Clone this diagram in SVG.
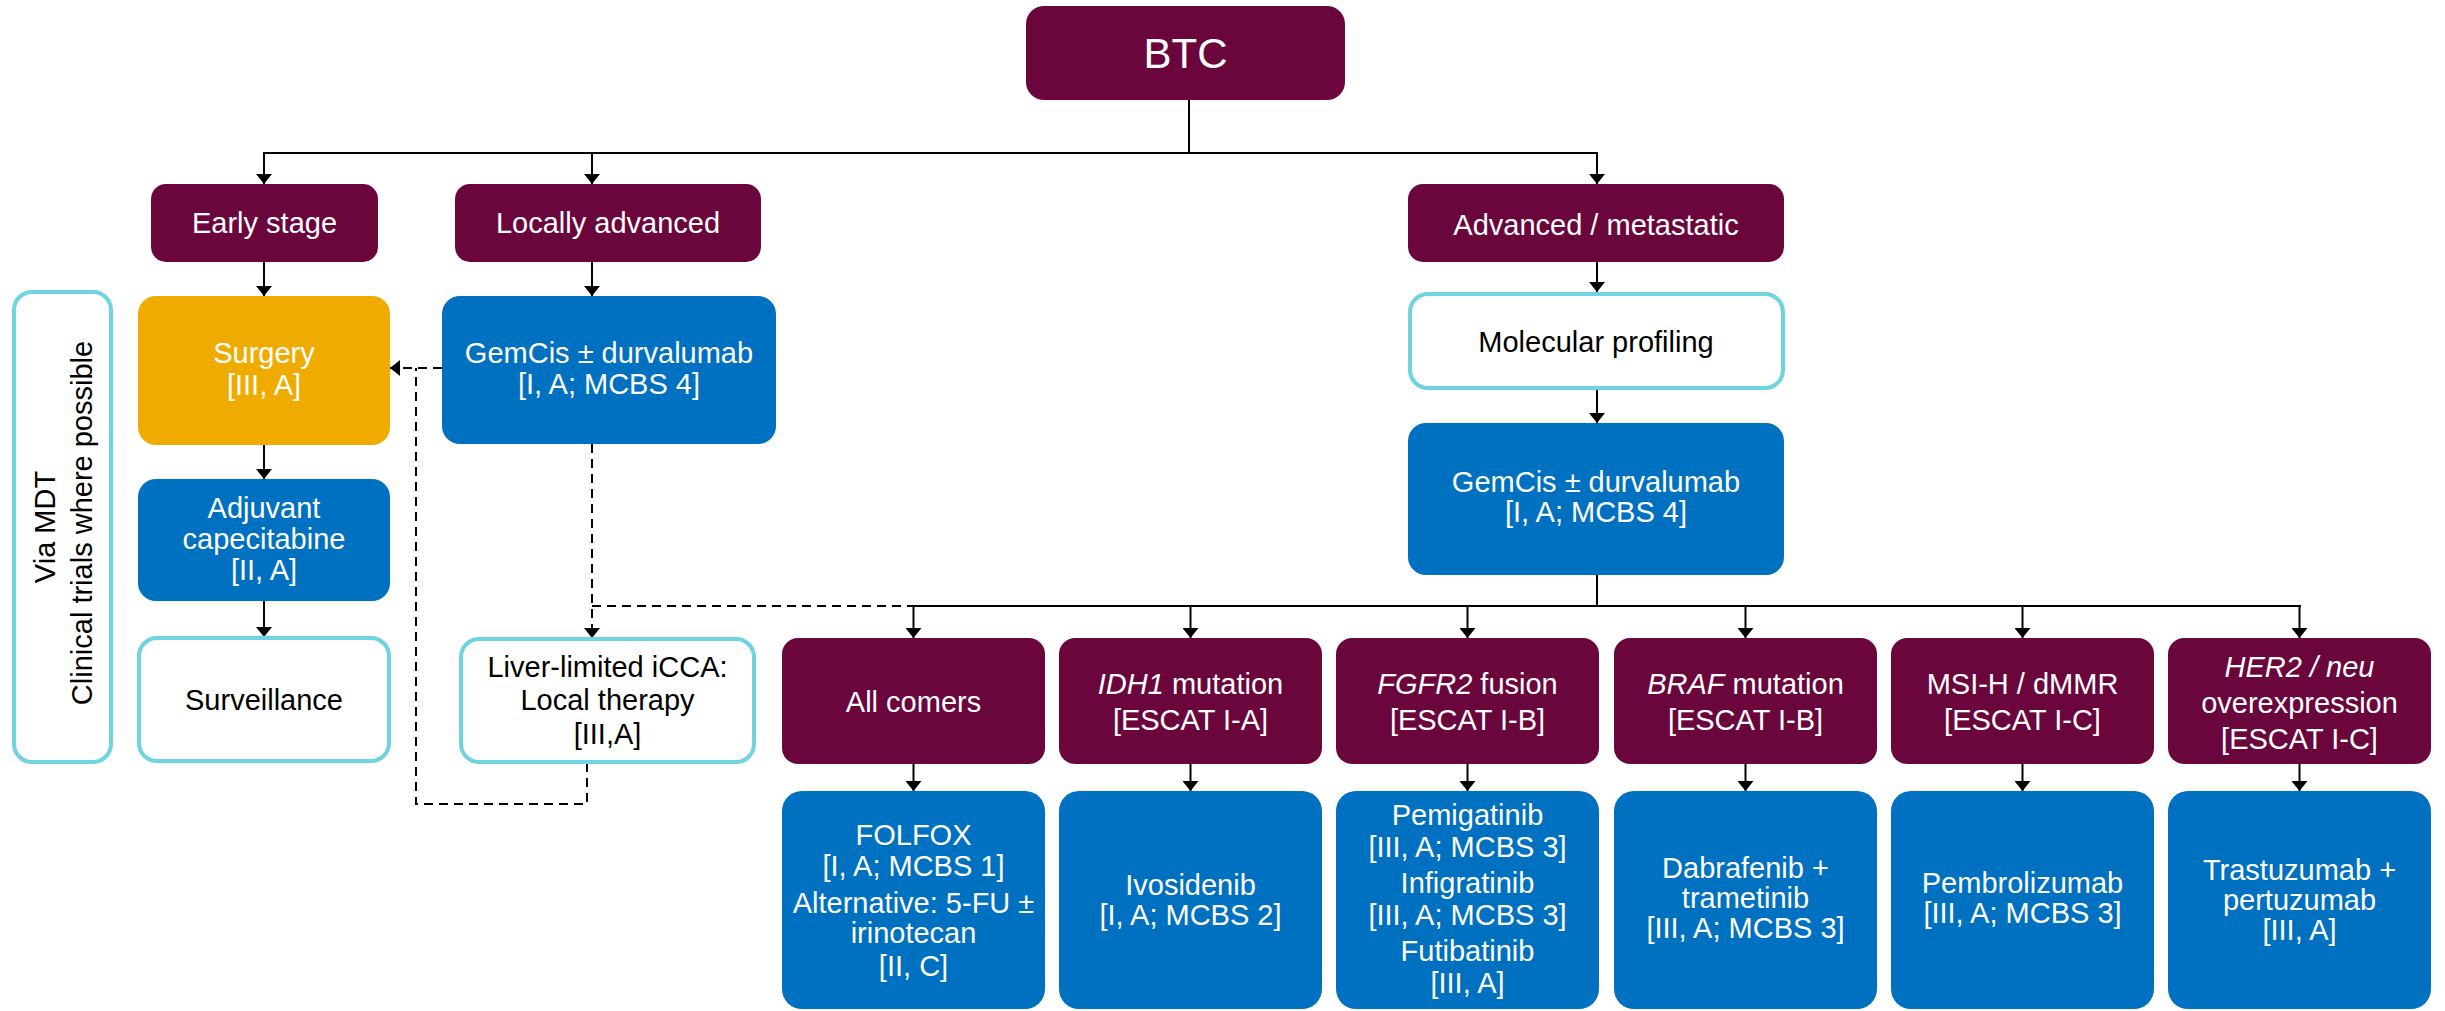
<svg xmlns="http://www.w3.org/2000/svg" width="2445" height="1011" viewBox="0 0 2445 1011">
<style>
text{font-family:"Liberation Sans",Arial,sans-serif;font-size:29px;text-anchor:middle}
.m{fill:#6A063B}
.b{fill:#0070C0}
.o{fill:#EFAB00}
.c{fill:#fff;stroke:#6FD3E0;stroke-width:4}
.w{fill:#fff}
.k{fill:#000}
.i{font-style:italic}
.ln{fill:none;stroke:#000;stroke-width:2}
.dl{fill:none;stroke:#000;stroke-width:2;stroke-dasharray:9 6}
</style>
<defs>
<marker id="ah" viewBox="0 0 10 16" refX="10" refY="8" markerWidth="10" markerHeight="16" markerUnits="userSpaceOnUse" orient="auto">
<path d="M0,0 L10,8 L0,16 Z" fill="#000"/>
</marker>
</defs>

<g id="connectors">
<line class="ln" x1="1189" y1="100" x2="1189" y2="153" stroke-width="1.5"/>
<line class="ln" x1="263" y1="153" x2="1598" y2="153" stroke-width="3"/>
<line class="ln" x1="264" y1="153" x2="264" y2="184" marker-end="url(#ah)"/>
<line class="ln" x1="592" y1="153" x2="592" y2="184" marker-end="url(#ah)"/>
<line class="ln" x1="1597" y1="153" x2="1597" y2="184" marker-end="url(#ah)"/>
<line class="ln" x1="264" y1="262" x2="264" y2="296" marker-end="url(#ah)"/>
<line class="ln" x1="592" y1="262" x2="592" y2="296" marker-end="url(#ah)"/>
<line class="ln" x1="264" y1="445" x2="264" y2="479" marker-end="url(#ah)"/>
<line class="ln" x1="264" y1="601" x2="264" y2="637" marker-end="url(#ah)"/>
<line class="ln" x1="1597" y1="262" x2="1597" y2="292" marker-end="url(#ah)"/>
<line class="ln" x1="1597" y1="389" x2="1597" y2="423" marker-end="url(#ah)"/>
<line class="ln" x1="1597" y1="575" x2="1597" y2="606" stroke-width="1.5"/>
<line class="ln" x1="913" y1="606" x2="2301" y2="606" stroke-width="2.5"/>
<line class="ln" x1="913.5" y1="606" x2="913.5" y2="638" marker-end="url(#ah)"/>
<line class="ln" x1="1190.5" y1="606" x2="1190.5" y2="638" marker-end="url(#ah)"/>
<line class="ln" x1="1467.5" y1="606" x2="1467.5" y2="638" marker-end="url(#ah)"/>
<line class="ln" x1="1745.5" y1="606" x2="1745.5" y2="638" marker-end="url(#ah)"/>
<line class="ln" x1="2022.5" y1="606" x2="2022.5" y2="638" marker-end="url(#ah)"/>
<line class="ln" x1="2299.5" y1="606" x2="2299.5" y2="638" marker-end="url(#ah)"/>
<line class="ln" x1="913.5" y1="764" x2="913.5" y2="791" marker-end="url(#ah)"/>
<line class="ln" x1="1190.5" y1="764" x2="1190.5" y2="791" marker-end="url(#ah)"/>
<line class="ln" x1="1467.5" y1="764" x2="1467.5" y2="791" marker-end="url(#ah)"/>
<line class="ln" x1="1745.5" y1="764" x2="1745.5" y2="791" marker-end="url(#ah)"/>
<line class="ln" x1="2022.5" y1="764" x2="2022.5" y2="791" marker-end="url(#ah)"/>
<line class="ln" x1="2299.5" y1="764" x2="2299.5" y2="791" marker-end="url(#ah)"/>
<line class="dl" x1="592" y1="444" x2="592" y2="638" marker-end="url(#ah)"/>
<line class="dl" x1="592" y1="606" x2="913" y2="606"/>
<line class="dl" x1="442" y1="368" x2="390" y2="368" marker-end="url(#ah)"/>
<polyline class="dl" points="587,763 587,804 416,804 416,368"/>
</g>

<g id="btc"><rect class="m" x="1026" y="6" width="319" height="94" rx="18"/><text class="w" x="1185.5" y="68" style="font-size:42px">BTC</text></g>
<g id="early"><rect class="m" x="151" y="184" width="227" height="78" rx="15"/><text class="w" x="264.5" y="233">Early stage</text></g>
<g id="locally"><rect class="m" x="455" y="184" width="306" height="78" rx="15"/><text class="w" x="608" y="233">Locally advanced</text></g>
<g id="advanced"><rect class="m" x="1408" y="184" width="376" height="78" rx="15"/><text class="w" x="1596" y="235">Advanced / metastatic</text></g>

<g id="via-mdt"><rect class="c" x="14" y="292" width="97" height="470" rx="18"/>
<text class="k" transform="translate(55,527) rotate(-90)">Via MDT</text>
<text class="k" transform="translate(92,523) rotate(-90)">Clinical trials where possible</text></g>

<g id="surgery"><rect class="o" x="138" y="296" width="252" height="149" rx="18"/><text class="w" x="264" y="363">Surgery</text><text class="w" x="264" y="395">[III, A]</text></g>
<g id="gemcis-la"><rect class="b" x="442" y="296" width="334" height="148" rx="18"/><text class="w" x="609" y="363">GemCis ± durvalumab</text><text class="w" x="609" y="394">[I, A; MCBS 4]</text></g>
<g id="adjuvant"><rect class="b" x="138" y="479" width="252" height="122" rx="18"/><text class="w" x="264" y="518">Adjuvant</text><text class="w" x="264" y="549">capecitabine</text><text class="w" x="264" y="580">[II, A]</text></g>
<g id="surveillance"><rect class="c" x="139" y="638" width="250" height="123" rx="18"/><text class="k" x="264" y="710">Surveillance</text></g>
<g id="liver"><rect class="c" x="461" y="639" width="293" height="123" rx="18"/><text class="k" x="607.5" y="677">Liver-limited iCCA:</text><text class="k" x="607.5" y="710">Local therapy</text><text class="k" x="607.5" y="744">[III,A]</text></g>

<g id="molecular"><rect class="c" x="1410" y="294" width="373" height="94" rx="18"/><text class="k" x="1596" y="352">Molecular profiling</text></g>
<g id="gemcis-adv"><rect class="b" x="1408" y="423" width="376" height="152" rx="18"/><text class="w" x="1596" y="492">GemCis ± durvalumab</text><text class="w" x="1596" y="522">[I, A; MCBS 4]</text></g>

<g id="all-comers"><rect class="m" x="782" y="638" width="263" height="126" rx="16"/><text class="w" x="913.5" y="712">All comers</text></g>
<g id="idh1"><rect class="m" x="1059" y="638" width="263" height="126" rx="16"/><text class="w" x="1190.5" y="694"><tspan class="i">IDH1</tspan> mutation</text><text class="w" x="1190.5" y="730">[ESCAT I-A]</text></g>
<g id="fgfr2"><rect class="m" x="1336" y="638" width="263" height="126" rx="16"/><text class="w" x="1467.5" y="694"><tspan class="i">FGFR2</tspan> fusion</text><text class="w" x="1467.5" y="730">[ESCAT I-B]</text></g>
<g id="braf"><rect class="m" x="1614" y="638" width="263" height="126" rx="16"/><text class="w" x="1745.5" y="694"><tspan class="i">BRAF</tspan> mutation</text><text class="w" x="1745.5" y="730">[ESCAT I-B]</text></g>
<g id="msi"><rect class="m" x="1891" y="638" width="263" height="126" rx="16"/><text class="w" x="2022.5" y="694">MSI-H / dMMR</text><text class="w" x="2022.5" y="730">[ESCAT I-C]</text></g>
<g id="her2"><rect class="m" x="2168" y="638" width="263" height="126" rx="16"/><text class="w i" x="2299.5" y="677">HER2 / neu</text><text class="w" x="2299.5" y="713">overexpression</text><text class="w" x="2299.5" y="749">[ESCAT I-C]</text></g>

<g id="folfox"><rect class="b" x="782" y="791" width="263" height="218" rx="20"/><text class="w" x="913.5" y="845">FOLFOX</text><text class="w" x="913.5" y="876">[I, A; MCBS 1]</text><text class="w" x="913.5" y="913">Alternative: 5-FU ±</text><text class="w" x="913.5" y="943">irinotecan</text><text class="w" x="913.5" y="976">[II, C]</text></g>
<g id="ivosidenib"><rect class="b" x="1059" y="791" width="263" height="218" rx="20"/><text class="w" x="1190.5" y="895">Ivosidenib</text><text class="w" x="1190.5" y="925">[I, A; MCBS 2]</text></g>
<g id="fgfr-drugs"><rect class="b" x="1336" y="791" width="263" height="218" rx="20"/><text class="w" x="1467.5" y="825">Pemigatinib</text><text class="w" x="1467.5" y="857">[III, A; MCBS 3]</text><text class="w" x="1467.5" y="893">Infigratinib</text><text class="w" x="1467.5" y="925">[III, A; MCBS 3]</text><text class="w" x="1467.5" y="961">Futibatinib</text><text class="w" x="1467.5" y="993">[III, A]</text></g>
<g id="dabrafenib"><rect class="b" x="1614" y="791" width="263" height="218" rx="20"/><text class="w" x="1745.5" y="878">Dabrafenib +</text><text class="w" x="1745.5" y="908">trametinib</text><text class="w" x="1745.5" y="938">[III, A; MCBS 3]</text></g>
<g id="pembrolizumab"><rect class="b" x="1891" y="791" width="263" height="218" rx="20"/><text class="w" x="2022.5" y="893">Pembrolizumab</text><text class="w" x="2022.5" y="923">[III, A; MCBS 3]</text></g>
<g id="trastuzumab"><rect class="b" x="2168" y="791" width="263" height="218" rx="20"/><text class="w" x="2299.5" y="880">Trastuzumab +</text><text class="w" x="2299.5" y="910">pertuzumab</text><text class="w" x="2299.5" y="940">[III, A]</text></g>
</svg>
